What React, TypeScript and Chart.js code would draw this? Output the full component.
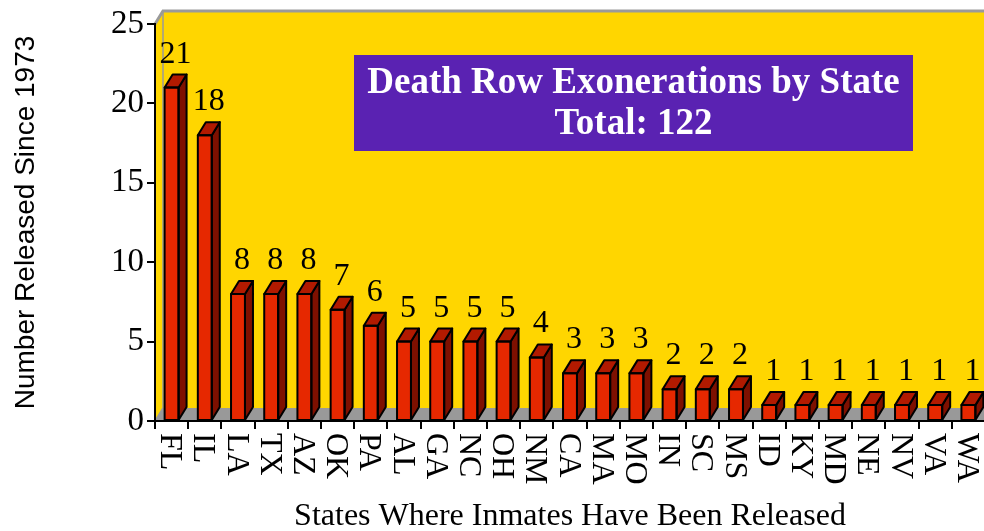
import React, { useEffect, useRef } from "react";
import { Chart, registerables } from "chart.js";

Chart.register(...registerables);

const states = ["FL", "IL", "LA", "TX", "AZ", "OK", "PA", "AL", "GA", "NC", "OH", "NM", "CA", "MA", "MO", "IN", "SC", "MS", "ID", "KY", "MD", "NE", "NV", "VA", "WA"];
const exonerations = [21, 18, 8, 8, 8, 7, 6, 5, 5, 5, 5, 4, 3, 3, 3, 2, 2, 2, 1, 1, 1, 1, 1, 1, 1];
const yMin = 0;
const yMax = 25;
const yStep = 5;
const titleLines = ["Death Row Exonerations by State", "Total: 122"];
const xTitle = "States Where Inmates Have Been Released";
const yTitle = "Number Released Since 1973";

const YELLOW = "#FFD600";
const PURPLE = "#5A22B2";
const FRONT = "#E62800";
const TOPC = "#B21A00";
const SIDE = "#7E1000";
const FLOOR = "#999999";
const EDGE = "#9A9A9A";
const DX = 8;
const DY = 13;
const SERIF = "'Liberation Serif', 'Times New Roman', serif";
const SANS = "'Liberation Sans', Arial, sans-serif";

const threeD = {
  id: "threeD",
  beforeDraw(chart: any) {
    const { ctx, chartArea } = chart;
    const { left, right, top, bottom } = chartArea;
    ctx.save();
    ctx.fillStyle = YELLOW;
    ctx.fillRect(left + DX, top - DY, right - left + 40, bottom - top);
    ctx.beginPath();
    ctx.moveTo(left, top);
    ctx.lineTo(left + DX, top - DY);
    ctx.lineTo(left + DX, bottom - DY);
    ctx.lineTo(left, bottom);
    ctx.closePath();
    ctx.fill();
    ctx.fillStyle = FLOOR;
    ctx.beginPath();
    ctx.moveTo(left, bottom);
    ctx.lineTo(left + DX, bottom - DY);
    ctx.lineTo(right + DX + 40, bottom - DY);
    ctx.lineTo(right + 40, bottom);
    ctx.closePath();
    ctx.fill();
    ctx.strokeStyle = EDGE;
    ctx.lineWidth = 3;
    ctx.beginPath();
    ctx.moveTo(left, top);
    ctx.lineTo(left + DX, top - DY);
    ctx.lineTo(right + DX + 40, top - DY);
    ctx.stroke();
    ctx.lineWidth = 1.5;
    ctx.beginPath();
    ctx.moveTo(left + DX, top - DY);
    ctx.lineTo(left + DX, bottom - DY);
    ctx.lineTo(left, bottom);
    ctx.stroke();
    ctx.restore();
  },
  afterDatasetsDraw(chart: any) {
    const { ctx } = chart;
    const meta = chart.getDatasetMeta(0);
    const ds = chart.data.datasets[0];
    ctx.save();
    ctx.lineWidth = 2;
    ctx.lineJoin = "round";
    ctx.strokeStyle = "#000";
    meta.data.forEach((el: any, i: number) => {
      const { x, y, width, base } = el.getProps(["x", "y", "width", "base"], true);
      const L = x - width / 2;
      const R = x + width / 2;
      ctx.fillStyle = SIDE;
      ctx.beginPath();
      ctx.moveTo(R, y);
      ctx.lineTo(R + DX, y - DY);
      ctx.lineTo(R + DX, base - DY);
      ctx.lineTo(R, base);
      ctx.closePath();
      ctx.fill();
      ctx.stroke();
      ctx.fillStyle = TOPC;
      ctx.beginPath();
      ctx.moveTo(L, y);
      ctx.lineTo(L + DX, y - DY);
      ctx.lineTo(R + DX, y - DY);
      ctx.lineTo(R, y);
      ctx.closePath();
      ctx.fill();
      ctx.stroke();
      ctx.strokeRect(L, y, width, base - y);
      ctx.fillStyle = "#000";
      ctx.font = `32px ${SERIF}`;
      ctx.textAlign = "center";
      ctx.textBaseline = "alphabetic";
      ctx.fillText(String(ds.data[i]), x + 4, y - DY - 12);
    });
    ctx.restore();
  },
  afterDraw(chart: any) {
    const { ctx, chartArea, scales } = chart;
    const xs = scales.x;
    ctx.save();
    ctx.fillStyle = "#000";
    ctx.font = `32px ${SERIF}`;
    ctx.textAlign = "left";
    ctx.textBaseline = "alphabetic";
    states.forEach((s, i) => {
      const cx = xs.getPixelForValue(i);
      ctx.save();
      ctx.translate(cx, chartArea.bottom + 12);
      ctx.rotate(Math.PI / 2);
      ctx.fillText(s, 0, 10.5);
      ctx.restore();
    });
    const bx = 354, by = 55, bw = 559, bh = 96;
    ctx.fillStyle = PURPLE;
    ctx.fillRect(bx, by, bw, bh);
    ctx.fillStyle = "#FFFFFF";
    ctx.font = `bold 37px ${SERIF}`;
    ctx.textAlign = "center";
    ctx.textBaseline = "middle";
    ctx.fillText(titleLines[0], bx + bw / 2, by + 28);
    ctx.fillText(titleLines[1], bx + bw / 2, by + 69);
    ctx.restore();
  },
};

export default function App() {
  const ref = useRef<HTMLCanvasElement | null>(null);
  useEffect(() => {
    if (!ref.current) return;
    const chart = new Chart(ref.current, {
      type: "bar",
      data: {
        labels: states,
        datasets: [
          {
            data: exonerations,
            backgroundColor: FRONT,
            borderColor: "#000",
            borderWidth: 0,
            barPercentage: 0.42,
            categoryPercentage: 1,
          },
        ],
      },
      options: {
        animation: false,
        responsive: false,
        devicePixelRatio: 1,
        layout: { padding: { top: 24, left: 0, right: 0, bottom: 0 } },
        plugins: { legend: { display: false }, tooltip: { enabled: false }, title: { display: false } },
        scales: {
          x: {
            offset: true,
            grid: { display: true, drawOnChartArea: false, drawTicks: true, tickLength: 8, color: "#000", lineWidth: 2, offset: true },
            border: { display: true, color: "#000", width: 2 },
            ticks: { display: false },
            title: { display: true, text: xTitle, color: "#000", font: { family: SERIF, size: 32 }, padding: { top: 0, bottom: -5 } },
            afterFit: (s: any) => { s.height = 110; },
          },
          y: {
            min: yMin,
            max: yMax,
            ticks: { stepSize: yStep, color: "#000", font: { family: SERIF, size: 33 }, padding: 3 },
            grid: { display: true, drawOnChartArea: false, drawTicks: true, tickLength: 8, color: "#000", lineWidth: 2 },
            border: { display: true, color: "#000", width: 2 },
            title: { display: true, text: yTitle, color: "#000", font: { family: SANS, size: 28 }, padding: { top: 9, bottom: 0 } },
            afterFit: (s: any) => { s.width = 155; },
          },
        },
      },
      plugins: [threeD],
    });
    return () => chart.destroy();
  }, []);
  return (
    <div style={{ position: "fixed", left: 0, top: 0, width: 984, height: 531, overflow: "hidden", background: "#fff" }}>
      <canvas ref={ref} width={985} height={531} style={{ display: "block" }} />
    </div>
  );
}
